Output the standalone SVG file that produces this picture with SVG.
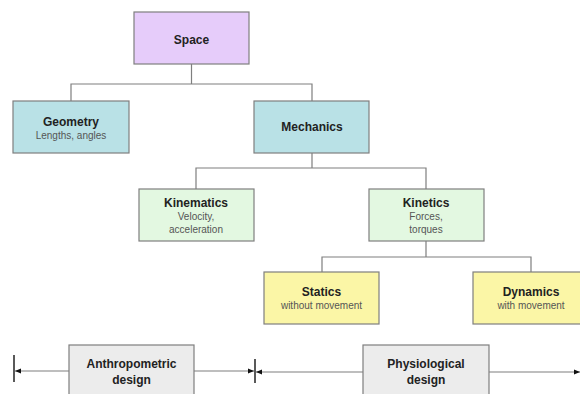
<svg xmlns="http://www.w3.org/2000/svg" width="580" height="394" viewBox="0 0 580 394">
<style>
.box{stroke:#7f7f7f;stroke-width:1.2}
.t{font-family:"Liberation Sans",Arial,sans-serif;font-size:12px;font-weight:bold;fill:#222;text-anchor:middle}
.s{font-family:"Liberation Sans",Arial,sans-serif;font-size:10px;fill:#555;text-anchor:middle}
.c{fill:none;stroke:#7f7f7f;stroke-width:1.2}
.purple{fill:#e6ccfa}
.teal{fill:#b9e1e6}
.green{fill:#e3f8e1}
.yellow{fill:#fbf6a6}
.grey{fill:#ececec}
</style>
<defs>
<marker id="ah" viewBox="0 0 10 10" refX="10" refY="5" markerWidth="6" markerHeight="6" orient="auto-start-reverse" markerUnits="userSpaceOnUse">
<path d="M0,1 L10,5 L0,9 Z" fill="#111"/>
</marker>
</defs>
<rect width="580" height="394" fill="#fff"/>
<g id="connectors">
<path class="c" d="M191.5,64 V84 M71,101 V84 H312 V101"/>
<path class="c" d="M312,153 V168 M196,189 V168 H426 V189"/>
<path class="c" d="M426,241 V257 M322,272 V257 H531 V272"/>
<line x1="14" y1="355" x2="14" y2="382" stroke="#222" stroke-width="1.5"/>
<line x1="255" y1="359" x2="255" y2="383" stroke="#222" stroke-width="1.5"/>
<line class="c" x1="69" y1="371" x2="15" y2="371" marker-end="url(#ah)"/>
<line class="c" x1="194" y1="371" x2="254" y2="371" marker-end="url(#ah)"/>
<line class="c" x1="363" y1="372" x2="256" y2="372" marker-end="url(#ah)"/>
<line class="c" x1="489" y1="372" x2="580" y2="372" marker-end="url(#ah)"/>
</g>
<g id="space"><rect class="box purple" x="134" y="12" width="115" height="52"/><text class="t" x="191.5" y="44">Space</text></g>
<g id="geometry"><rect class="box teal" x="13" y="101" width="116" height="52"/><text class="t" x="71" y="126">Geometry</text><text class="s" x="71" y="139">Lengths, angles</text></g>
<g id="mechanics"><rect class="box teal" x="254" y="101" width="115" height="52"/><text class="t" x="312" y="131">Mechanics</text></g>
<g id="kinematics"><rect class="box green" x="139" y="189" width="115" height="52"/><text class="t" x="196" y="207">Kinematics</text><text class="s" x="196" y="220">Velocity,</text><text class="s" x="196" y="233">acceleration</text></g>
<g id="kinetics"><rect class="box green" x="369" y="189" width="115" height="52"/><text class="t" x="426" y="207">Kinetics</text><text class="s" x="426" y="220">Forces,</text><text class="s" x="426" y="233">torques</text></g>
<g id="statics"><rect class="box yellow" x="264" y="272" width="115" height="52"/><text class="t" x="321.5" y="296">Statics</text><text class="s" x="321.5" y="309">without movement</text></g>
<g id="dynamics"><rect class="box yellow" x="473" y="272" width="115" height="52"/><text class="t" x="531" y="296">Dynamics</text><text class="s" x="531" y="309">with movement</text></g>
<g id="anthropometric"><rect class="box grey" x="69" y="345" width="125" height="60"/><text class="t" x="131.5" y="368">Anthropometric</text><text class="t" x="131.5" y="384">design</text></g>
<g id="physiological"><rect class="box grey" x="363" y="345" width="126" height="60"/><text class="t" x="426" y="368">Physiological</text><text class="t" x="426" y="384">design</text></g>
</svg>
